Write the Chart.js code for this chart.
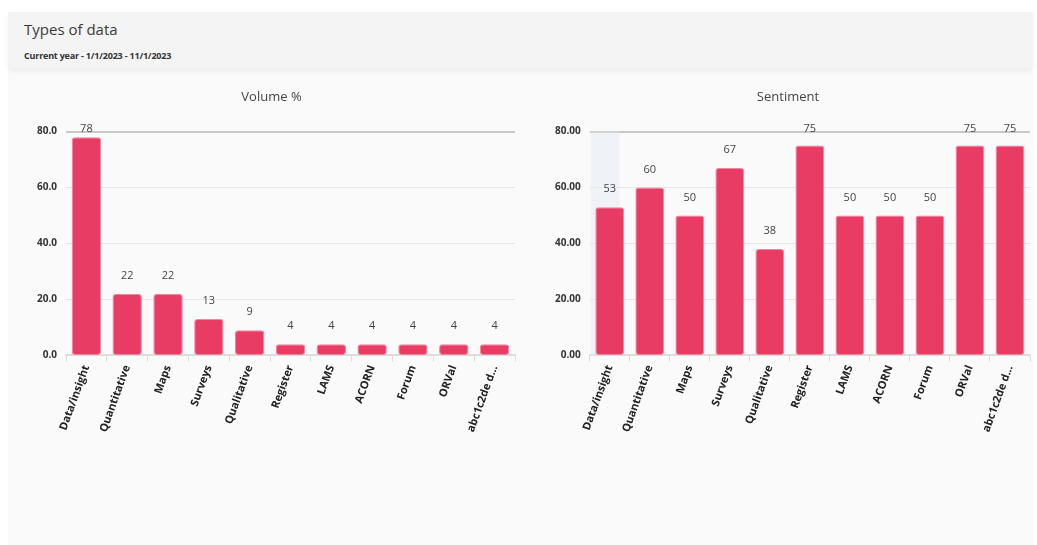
<!DOCTYPE html>
<html>
<head>
<meta charset="utf-8">
<script src="https://cdn.jsdelivr.net/npm/chart.js@4.4.0/dist/chart.umd.min.js"></script>
<style>
  html, body { margin: 0; padding: 0; background: #ffffff; }
  body { width: 1037px; height: 545px; position: relative; overflow: hidden; font-family: "Open Sans", sans-serif; }
  .card { position: absolute; left: 8px; top: 12px; width: 1025px; height: 540px; background: #fafafa; }
  .head { position: absolute; left: 0; top: 0; width: 100%; height: 56px; background: #f4f4f4;
          box-shadow: 0 3px 6px rgba(0,0,0,0.06); }
  .head h1 { position: absolute; left: 16px; top: 7px; margin: 0; font-size: 15px; font-weight: 400; color: #3a3a3a; }
  .head p { position: absolute; left: 16px; top: 37px; margin: 0; font-size: 9px; font-weight: 700; color: #333; letter-spacing: -0.2px; }
  .box { position: absolute; top: 84px; height: 352px; }
</style>
</head>
<body>
<div class="card">
  <div class="head">
    <h1>Types of data</h1>
    <p>Current year - 1/1/2023 - 11/1/2023</p>
  </div>
</div>
<div class="box" style="left:8px;width:514px;"><canvas id="volume"></canvas></div>
<div class="box" style="left:522px;width:515px;"><canvas id="sentiment"></canvas></div>
<script>
// Categories shared by both panels
const categories = ["Data/insight", "Quantitative", "Maps", "Surveys", "Qualitative", "Register",
                    "LAMS", "ACORN", "Forum", "ORVal", "abc1c2de d..."];
// Share of volume per data type (%)
const volumeValues = [78, 22, 22, 13, 9, 4, 4, 4, 4, 4, 4];
// Sentiment score per data type
const sentimentValues = [53, 60, 50, 67, 38, 75, 50, 50, 50, 75, 75];
// Value axis ticks
const yTicks = [0, 20, 40, 60, 80];

const BAR = "rgba(232,54,96,0.97)";

// Writes each bar's value above it
const valueLabels = {
  id: "valueLabels",
  afterDatasetsDraw(chart) {
    const ctx = chart.ctx;
    const meta = chart.getDatasetMeta(0);
    const data = chart.data.datasets[0].data;
    ctx.save();
    ctx.font = "400 11px 'Open Sans', sans-serif";
    ctx.fillStyle = "#444";
    ctx.textAlign = "center";
    ctx.textBaseline = "middle";
    meta.data.forEach((bar, i) => {
      const y = Math.max(bar.y - 18, chart.chartArea.top - 3);
      ctx.fillText(String(data[i]), bar.x, y);
    });
    ctx.restore();
  }
};

// Faint hover band behind one category
const hoverBand = {
  id: "hoverBand",
  beforeDatasetsDraw(chart, args, opts) {
    if (opts.index == null) return;
    const x = chart.scales.x;
    const w = (x.right - x.left) / chart.data.labels.length;
    const left = x.left + w * opts.index + 1;
    const a = chart.chartArea;
    chart.ctx.save();
    chart.ctx.fillStyle = "rgba(226,233,245,0.45)";
    chart.ctx.fillRect(left, a.top, w * 0.72, a.bottom - a.top);
    chart.ctx.restore();
  }
};

function makeChart(id, title, values, decimals, padLeft, band) {
  return new Chart(document.getElementById(id), {
    type: "bar",
    data: {
      labels: categories,
      datasets: [{
        data: values,
        backgroundColor: BAR,
        borderColor: "rgba(240,120,150,0.9)",
        borderWidth: 1,
        borderRadius: 3,
        borderSkipped: false,
        categoryPercentage: 0.8,
        barPercentage: 0.9
      }]
    },
    options: {
      responsive: true,
      maintainAspectRatio: false,
      animation: false,
      layout: { padding: { left: padLeft, right: 7, top: 0, bottom: 0 } },
      plugins: {
        legend: { display: false },
        tooltip: { enabled: false },
        hoverBand: { index: band },
        title: {
          display: true,
          text: title,
          color: "#444",
          font: { family: "'Open Sans', sans-serif", size: 13, weight: "400" },
          padding: { top: 5, bottom: 27 }
        }
      },
      scales: {
        x: {
          offset: true,
          grid: {
            display: true,
            drawOnChartArea: false,
            drawTicks: true,
            tickLength: 6,
            color: "#dddddd",
            offset: true
          },
          border: { display: true, color: "#dddddd", width: 2 },
          ticks: {
            minRotation: 70,
            maxRotation: 70,
            autoSkip: false,
            padding: 2,
            color: "#222",
            font: { family: "'Open Sans', sans-serif", size: 11, weight: "700" }
          }
        },
        y: {
          min: 0,
          max: 80,
          afterBuildTicks(axis) { axis.ticks = yTicks.map(v => ({ value: v })); },
          grid: {
            drawTicks: false,
            color: ctx => (ctx.tick && ctx.tick.value === 80 ? "#c8c8c8" : "#e6e6e6"),
            lineWidth: ctx => (ctx.tick && ctx.tick.value === 80 ? 2 : 1)
          },
          border: { display: false },
          ticks: {
            padding: 9,
            color: "#333",
            font: { family: "'Open Sans', sans-serif", size: 10, weight: "700" },
            callback: v => Number(v).toFixed(decimals)
          }
        }
      }
    },
    plugins: [hoverBand, valueLabels]
  });
}

makeChart("volume", "Volume %", volumeValues, 1, 20, null);
makeChart("sentiment", "Sentiment", sentimentValues, 2, 24, 0);
</script>
</body>
</html>
